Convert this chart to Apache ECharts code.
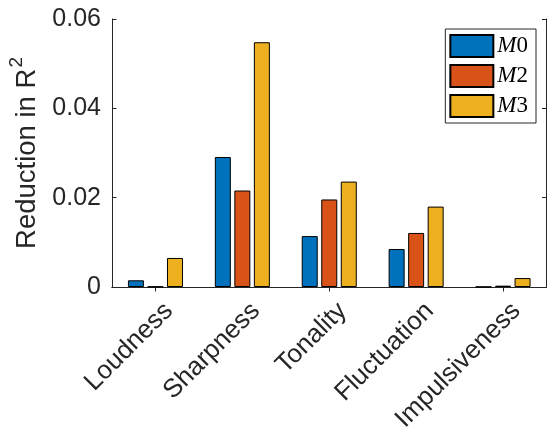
<!DOCTYPE html>
<html>
<head>
<meta charset="utf-8">
<script src="https://cdn.jsdelivr.net/npm/echarts@6/dist/echarts.min.js"></script>
<style>html,body{margin:0;padding:0;background:#fff}#c{width:548px;height:427px}</style>
</head>
<body>
<div id="c"></div>
<script>
const categories = ['Loudness', 'Sharpness', 'Tonality', 'Fluctuation', 'Impulsiveness'];
const seriesNames = ['M0', 'M2', 'M3'];
const m0 = [0.0015, 0.0291, 0.0114, 0.0085, 0.00005];
const m2 = [0.0001, 0.0216, 0.0196, 0.0121, 0.0003];
const m3 = [0.0065, 0.0548, 0.0236, 0.0180, 0.0020];
const yTicks = [0, 0.02, 0.04, 0.06];

const colors = ['#0072BD', '#D95319', '#EDB120'];
const dark = '#262626';
const chart = echarts.init(document.getElementById('c'), null, {renderer: 'canvas'});
const values = [m0, m2, m3];

chart.setOption({
  animation: false,
  grid: {left: 112, right: 1.5, top: 19, bottom: 140, containLabel: false, outerBoundsMode: 'none'},
  legend: {
    right: 12, top: 29, orient: 'vertical',
    itemWidth: 43, itemHeight: 22, itemGap: 6,
    padding: [5, 8, 5, 4],
    backgroundColor: '#fff', borderColor: dark, borderWidth: 1,
    icon: 'rect',
    formatter: function (n) { return '{i|' + n[0] + '}{n|' + n.slice(1) + '}'; },
    textStyle: {
      padding: [0, 0, 0, -1],
      rich: {
        i: {fontFamily: 'Liberation Serif', fontStyle: 'italic', fontSize: 23, color: '#000'},
        n: {fontFamily: 'Liberation Serif', fontSize: 23, color: '#000'}
      }
    },
    data: seriesNames
  },
  xAxis: [{
    type: 'category', data: categories, position: 'bottom',
    axisLine: {lineStyle: {color: dark, width: 1}},
    axisTick: {inside: true, length: 4.5, alignWithLabel: true, lineStyle: {color: dark}},
    axisLabel: {rotate: 45, verticalAlign: 'top', align: 'right', fontFamily: 'Liberation Sans', fontSize: 26, color: dark, margin: 15, padding: [0, -6, 0, 0], interval: 0}
  }, {
    type: 'category', data: categories, position: 'top',
    axisLine: {show: true, lineStyle: {color: dark, width: 1}},
    axisTick: {show: true, inside: true, length: 4.5, alignWithLabel: true, lineStyle: {color: dark}},
    axisLabel: {show: false}
  }],
  yAxis: [{
    type: 'value', min: 0, max: 0.06, interval: 0.02, position: 'left',
    name: '{a|Reduction in R}{s|2}', nameLocation: 'middle', nameGap: 70,
    nameTextStyle: {
      color: dark,
      rich: {
        a: {fontFamily: 'Liberation Sans', fontSize: 27.5, color: dark, lineHeight: 34, verticalAlign: 'bottom'},
        s: {fontFamily: 'Liberation Sans', fontSize: 19, color: dark, lineHeight: 34, verticalAlign: 'top', padding: [0, 0, 0, 1]}
      }
    },
    axisLine: {show: true, lineStyle: {color: dark, width: 1}},
    axisTick: {show: true, inside: true, length: 4.5, lineStyle: {color: dark}},
    splitLine: {show: false},
    axisLabel: {fontFamily: 'Liberation Sans', fontSize: 25, color: dark, margin: 11,
      formatter: function (v) { return v === yTicks[0] ? '0' : v.toFixed(2); }}
  }, {
    type: 'value', min: 0, max: 0.06, interval: 0.02, position: 'right',
    axisLine: {show: true, lineStyle: {color: dark, width: 1}},
    axisTick: {show: true, inside: true, length: 4.5, lineStyle: {color: dark}},
    splitLine: {show: false},
    axisLabel: {show: false}
  }],
  series: seriesNames.map(function (n, i) {
    return {
      name: n, type: 'bar', data: values[i], xAxisIndex: 0, yAxisIndex: 0,
      barWidth: 16, barGap: '22%',
      itemStyle: {color: colors[i], borderColor: '#000', borderWidth: 1}
    };
  })
});
</script>
</body>
</html>
